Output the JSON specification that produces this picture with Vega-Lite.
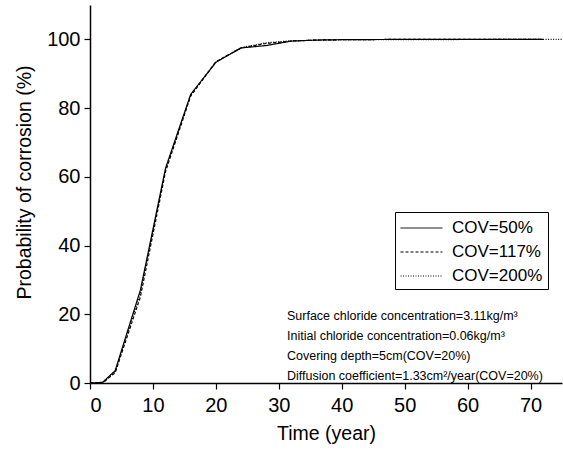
{
  "$schema": "https://vega.github.io/schema/vega-lite/v6.json",
  "autosize": "none",
  "width": 472,
  "height": 378,
  "padding": {"left": 90, "top": 5, "right": 1, "bottom": 67},
  "background": "white",
  "config": {
    "font": "Liberation Sans",
    "view": {"stroke": null},
    "axis": {
      "domainColor": "black", "domainWidth": 1.5, "tickColor": "black", "tickWidth": 1.2,
      "labelColor": "black", "titleColor": "black", "labelFontSize": 20, "titleFontSize": 19.5,
      "titleFontWeight": "normal", "grid": false, "labelFont": "Liberation Sans", "titleFont": "Liberation Sans"
    }
  },
  "layer": [
    {
      "data": {"values": [
        {"series": "COV=50%", "time": 0, "p": 0},
        {"series": "COV=50%", "time": 2, "p": 0.2},
        {"series": "COV=50%", "time": 4, "p": 3.6},
        {"series": "COV=50%", "time": 8, "p": 27},
        {"series": "COV=50%", "time": 12, "p": 62.5},
        {"series": "COV=50%", "time": 16, "p": 84},
        {"series": "COV=50%", "time": 20, "p": 93.3},
        {"series": "COV=50%", "time": 24, "p": 97.5},
        {"series": "COV=50%", "time": 28, "p": 98.2},
        {"series": "COV=50%", "time": 32, "p": 99.5},
        {"series": "COV=50%", "time": 36, "p": 99.8},
        {"series": "COV=50%", "time": 40, "p": 99.9},
        {"series": "COV=50%", "time": 50, "p": 100},
        {"series": "COV=50%", "time": 72, "p": 100},
        {"series": "COV=117%", "time": 0, "p": 0},
        {"series": "COV=117%", "time": 2, "p": 0},
        {"series": "COV=117%", "time": 4, "p": 3},
        {"series": "COV=117%", "time": 8, "p": 25},
        {"series": "COV=117%", "time": 12, "p": 61.5},
        {"series": "COV=117%", "time": 16, "p": 83.5},
        {"series": "COV=117%", "time": 20, "p": 93.5},
        {"series": "COV=117%", "time": 24, "p": 97.5},
        {"series": "COV=117%", "time": 28, "p": 98.8},
        {"series": "COV=117%", "time": 32, "p": 99.5},
        {"series": "COV=117%", "time": 36, "p": 99.8},
        {"series": "COV=117%", "time": 40, "p": 99.9},
        {"series": "COV=117%", "time": 50, "p": 100},
        {"series": "COV=117%", "time": 72, "p": 100},
        {"series": "COV=200%", "time": 0, "p": 0},
        {"series": "COV=200%", "time": 2, "p": 0},
        {"series": "COV=200%", "time": 4, "p": 3.2},
        {"series": "COV=200%", "time": 8, "p": 26},
        {"series": "COV=200%", "time": 12, "p": 62},
        {"series": "COV=200%", "time": 16, "p": 83.8},
        {"series": "COV=200%", "time": 20, "p": 93.4},
        {"series": "COV=200%", "time": 24, "p": 97.6},
        {"series": "COV=200%", "time": 28, "p": 99},
        {"series": "COV=200%", "time": 32, "p": 99.6},
        {"series": "COV=200%", "time": 40, "p": 99.9},
        {"series": "COV=200%", "time": 75, "p": 100}
      ]},
      "mark": {"type": "line", "strokeWidth": 1.2, "color": "black", "clip": true},
      "encoding": {
        "x": {"field": "time", "type": "quantitative", "scale": {"domain": [0, 75], "nice": false},
          "axis": {"title": "Time (year)", "values": [0,5,10,15,20,25,30,35,40,45,50,55,60,65,70,75],
            "labelExpr": "datum.value % 10 === 0 ? datum.label : ''",
            "tickSize": {"condition": {"test": "datum.value % 10 === 0", "value": 6}, "value": 3},
            "labelPadding": 6, "titlePadding": 9}},
        "y": {"field": "p", "type": "quantitative", "scale": {"domain": [0, 110], "nice": false},
          "axis": {"title": "Probability of corrosion (%)", "values": [0,10,20,30,40,50,60,70,80,90,100,110],
            "labelExpr": "datum.value % 20 === 0 && datum.value <= 100 ? datum.label : ''",
            "tickSize": {"condition": {"test": "datum.value % 20 === 0", "value": 6}, "value": 3},
            "labelPadding": 4, "titlePadding": 12, "titleY": 177}},
        "strokeDash": {"field": "series", "type": "nominal",
          "scale": {"domain": ["COV=50%", "COV=117%", "COV=200%"], "range": [[1, 0], [3, 2], [1, 1.5]]},
          "legend": {"title": null, "orient": "none", "legendX": 305, "legendY": 207,
            "symbolType": "M-1,0H3", "symbolSize": 441, "symbolStrokeColor": "black", "symbolStrokeWidth": 1,
            "symbolFillColor": "transparent",
            "labelFontSize": 17, "labelColor": "black", "labelFont": "Liberation Sans",
            "fillColor": "white", "strokeColor": "black", "padding": 5, "rowPadding": 5, "labelOffset": 30}}
      }
    },
    {
      "data": {"values": [{"note": "conditions"}]},
      "mark": {"type": "text", "align": "left", "baseline": "middle", "fontSize": 12.5, "lineHeight": 20, "color": "black", "font": "Liberation Sans"},
      "encoding": {
        "x": {"datum": 31.3},
        "y": {"datum": 19.6},
        "text": {"value": ["Surface chloride concentration=3.11kg/m³", "Initial chloride concentration=0.06kg/m³", "Covering depth=5cm(COV=20%)", "Diffusion coefficient=1.33cm²/year(COV=20%)"]}
      }
    }
  ]
}
